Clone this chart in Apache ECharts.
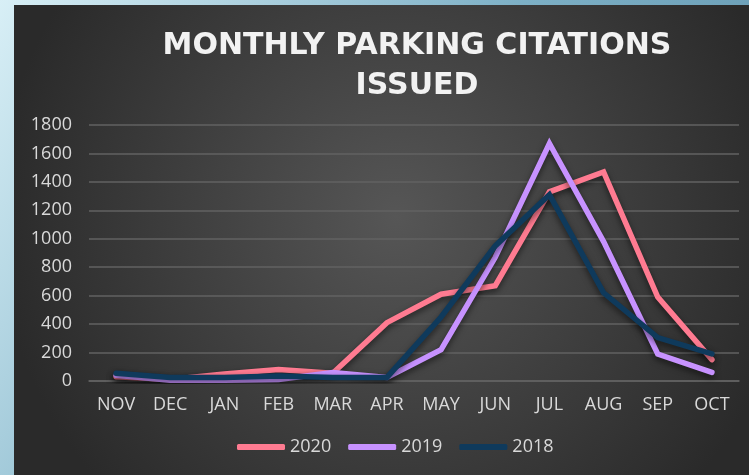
<!DOCTYPE html>
<html>
<head>
<meta charset="utf-8">
<script src="https://cdn.jsdelivr.net/npm/echarts@6/dist/echarts.min.js"></script>
<style>
html,body{margin:0;padding:0;width:749px;height:475px;overflow:hidden;}
#chart{width:749px;height:475px;}
</style>
</head>
<body>
<div id="chart"></div>
<script>
const categories = ['NOV','DEC','JAN','FEB','MAR','APR','MAY','JUN','JUL','AUG','SEP','OCT'];
const s2020 = [30, 10, 50, 80, 55, 410, 610, 670, 1330, 1470, 590, 150];
const s2019 = [40, 5, 5, 10, 60, 25, 220, 870, 1670, 980, 190, 60];
const s2018 = [55, 25, 25, 35, 25, 25, 450, 950, 1310, 620, 305, 190];
const yTicks = [0, 200, 400, 600, 800, 1000, 1200, 1400, 1600, 1800];
const seriesNames = ['2020', '2019', '2018'];
const seriesColors = ['#ff7b91', '#c792ff', '#0f3a5c'];

const chart = echarts.init(document.getElementById('chart'), null, {renderer: 'canvas'});
const labelFont = {color: '#d9d9d9', fontFamily: 'Open Sans', fontSize: 18};
const lineShadow = {shadowColor: 'rgba(0,0,0,0.55)', shadowBlur: 6, shadowOffsetY: 3};
const dataSets = [s2020, s2019, s2018];

chart.setOption({
  backgroundColor: new echarts.graphic.LinearGradient(0, 0, 1, 1, [
    {offset: 0, color: '#d8eff6'},
    {offset: 0.5, color: '#7db0c6'},
    {offset: 1, color: '#5a8ea8'}
  ]),
  graphic: [{
    type: 'rect',
    z: -10,
    silent: true,
    shape: {x: 14, y: 5, width: 735, height: 470},
    style: {
      fill: new echarts.graphic.RadialGradient(0.52, 0.45, 0.85, [
        {offset: 0, color: '#565656'},
        {offset: 1, color: '#2a2a2a'}
      ])
    }
  }],
  title: {
    text: 'MONTHLY PARKING CITATIONS\nISSUED',
    left: 417,
    top: 26,
    padding: 0,
    textAlign: 'center',
    textStyle: {
      color: '#f2f2f2',
      fontFamily: 'DejaVu Sans',
      fontWeight: 'bold',
      fontSize: 30,
      lineHeight: 40
    }
  },
  legend: {
    data: seriesNames,
    left: 232,
    top: 433,
    itemWidth: 48,
    itemHeight: 6,
    itemGap: 17,
    icon: 'roundRect',
    textStyle: labelFont
  },
  grid: {left: 89, right: 10, top: 125, bottom: 94, containLabel: false},
  xAxis: {
    type: 'category',
    data: categories,
    boundaryGap: true,
    axisLine: {show: true, lineStyle: {color: '#626262', width: 1.5}},
    axisTick: {show: false},
    axisLabel: Object.assign({margin: 15, interval: 0}, labelFont)
  },
  yAxis: {
    type: 'value',
    min: yTicks[0],
    max: yTicks[yTicks.length - 1],
    interval: yTicks[1] - yTicks[0],
    axisLine: {show: false},
    axisTick: {show: false},
    splitLine: {lineStyle: {color: '#626262', width: 1.5}},
    axisLabel: Object.assign({margin: 17, formatter: v => String(v)}, labelFont)
  },
  series: seriesNames.map((name, i) => ({
    name: name,
    type: 'line',
    data: dataSets[i],
    symbol: 'none',
    smooth: false,
    z: 2 + i,
    lineStyle: Object.assign({color: seriesColors[i], width: 5.5, cap: 'round', join: 'miter'}, lineShadow),
    itemStyle: {color: seriesColors[i]}
  }))
});
</script>
</body>
</html>
